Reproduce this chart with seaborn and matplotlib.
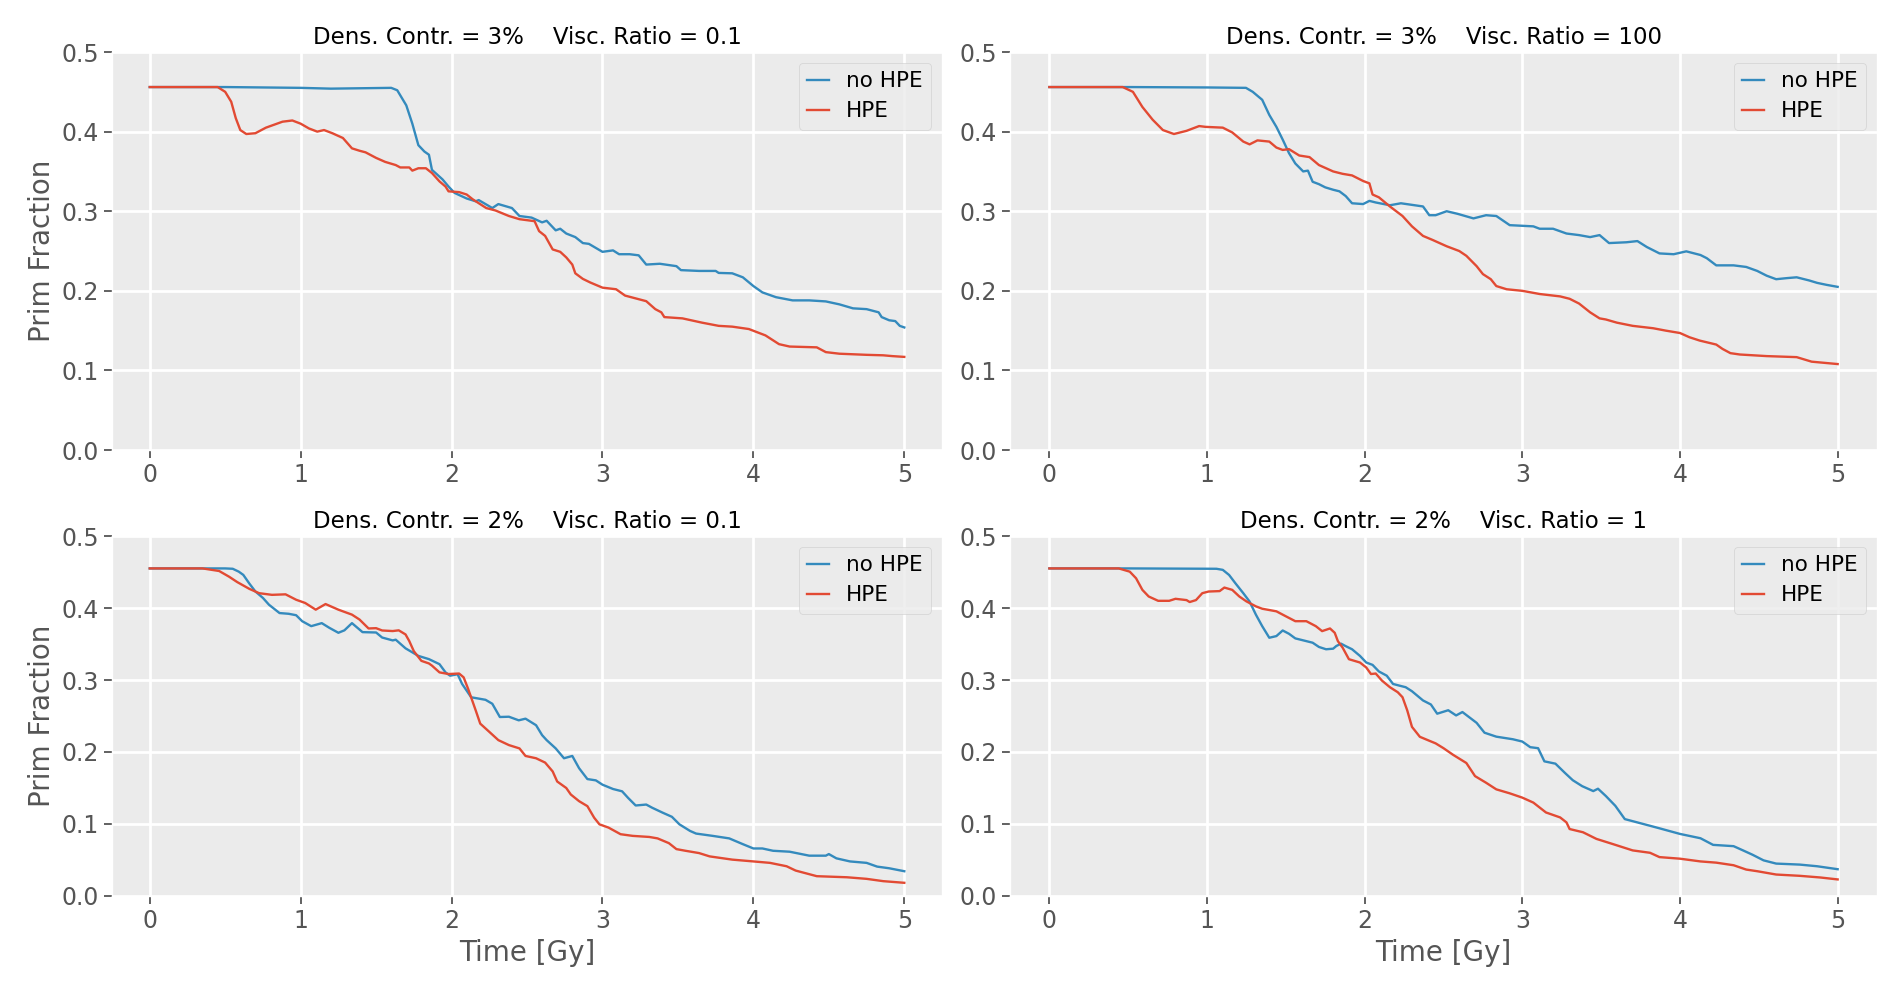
import matplotlib
matplotlib.use("Agg")
import matplotlib.pyplot as plt
import seaborn as sns

# readings (time [Gy], prim fraction)
tl_nohpe = [(0, .456), (0.5, .456), (1.0, .455), (1.2, .454), (1.6, .455), (1.64, .452), (1.70, .433),
            (1.74, .41), (1.78, .383), (1.82, .375), (1.85, .371), (1.87, .352), (1.94, .34), (1.98, .331),
            (2.02, .323), (2.10, .316), (2.16, .3125), (2.18, .314), (2.27, .304), (2.31, .309), (2.40, .304),
            (2.45, .294), (2.53, .292), (2.60, .286), (2.63, .288), (2.69, .276), (2.72, .278), (2.76, .272),
            (2.82, .2675), (2.87, .260), (2.91, .259), (3.0, .249), (3.07, .2508), (3.11, .246), (3.18, .246),
            (3.24, .2446), (3.29, .233), (3.38, .234), (3.49, .231), (3.52, .226), (3.64, .225), (3.75, .225),
            (3.77, .2225), (3.86, .222), (3.93, .217), (4.0, .206), (4.06, .198), (4.15, .192), (4.26, .188),
            (4.37, .188), (4.48, .1867), (4.57, .183), (4.66, .178), (4.75, .177), (4.83, .173), (4.85, .167),
            (4.90, .163), (4.94, .162), (4.97, .156), (5.0, .154)]
tl_hpe = [(0, .456), (0.45, .456), (0.50, .45), (0.54, .4375), (0.57, .417), (0.60, .402), (0.64, .397),
          (0.70, .398), (0.77, .405), (0.88, .4125), (0.945, .414), (1.0, .41), (1.055, .404), (1.11, .40),
          (1.155, .402), (1.21, .398), (1.28, .392), (1.34, .379), (1.39, .376), (1.43, .374), (1.50, .367),
          (1.56, .362), (1.63, .358), (1.66, .355), (1.72, .355), (1.74, .351), (1.78, .354), (1.83, .354),
          (1.87, .348), (1.92, .3375), (1.96, .331), (1.98, .325), (2.05, .324), (2.10, .321), (2.14, .315),
          (2.23, .304), (2.29, .301), (2.38, .294), (2.45, .29), (2.55, .2875), (2.58, .275), (2.62, .269),
          (2.67, .252), (2.72, .249), (2.76, .242), (2.80, .233), (2.82, .222), (2.87, .215), (2.92, .2104),
          (3.0, .204), (3.09, .202), (3.15, .194), (3.29, .187), (3.35, .177), (3.39, .173), (3.41, .167),
          (3.53, .1654), (3.66, .160), (3.77, .156), (3.86, .155), (3.97, .152), (4.08, .144), (4.17, .133),
          (4.24, .130), (4.42, .129), (4.48, .123), (4.57, .121), (4.75, .1196), (4.86, .119), (4.92, .118),
          (5.0, .117)]

tr_nohpe = [(0, .456), (0.5, .456), (1.0, .4555), (1.247, .455), (1.29, .45), (1.35, .44), (1.395, .421),
            (1.44, .406), (1.48, .39), (1.52, .373), (1.56, .36), (1.61, .35), (1.64, .351), (1.67, .337),
            (1.71, .334), (1.75, .33), (1.80, .327), (1.84, .325), (1.88, .319), (1.92, .31), (1.99, .309),
            (2.03, .313), (2.07, .311), (2.16, .3075), (2.23, .31), (2.30, .308), (2.37, .306), (2.41, .295),
            (2.45, .295), (2.52, .30), (2.59, .2967), (2.69, .291), (2.77, .295), (2.835, .294), (2.92, .2825),
            (3.0, .2817), (3.07, .281), (3.11, .278), (3.195, .278), (3.28, .272), (3.36, .27), (3.43, .2675),
            (3.49, .27), (3.55, .26), (3.66, .261), (3.73, .2625), (3.79, .255), (3.87, .247), (3.96, .246),
            (4.04, .2496), (4.13, .245), (4.17, .241), (4.23, .232), (4.34, .232), (4.42, .23), (4.49, .225),
            (4.55, .219), (4.61, .2146), (4.68, .216), (4.74, .217), (4.82, .213), (4.87, .21), (4.93, .2075),
            (5.0, .205)]
tr_hpe = [(0, .456), (0.465, .456), (0.53, .45), (0.59, .431), (0.655, .415), (0.72, .402), (0.79, .397),
          (0.87, .401), (0.95, .407), (0.99, .406), (1.10, .405), (1.16, .399), (1.23, .3875), (1.27, .384),
          (1.32, .389), (1.395, .3875), (1.44, .38), (1.48, .377), (1.52, .378), (1.585, .37), (1.65, .368),
          (1.71, .358), (1.80, .35), (1.86, .347), (1.92, .345), (1.99, .338), (2.03, .335), (2.05, .321),
          (2.09, .3175), (2.16, .306), (2.24, .294), (2.30, .281), (2.37, .269), (2.43, .264), (2.52, .256),
          (2.60, .25), (2.645, .244), (2.71, .231), (2.75, .221), (2.80, .2146), (2.835, .206), (2.90, .202),
          (3.0, .20), (3.11, .196), (3.24, .193), (3.30, .19), (3.36, .184), (3.43, .173), (3.49, .1654),
          (3.53, .164), (3.60, .16), (3.70, .156), (3.83, .153), (3.91, .15), (4.0, .147), (4.06, .1417),
          (4.125, .1375), (4.23, .1325), (4.27, .127), (4.32, .1217), (4.38, .12), (4.55, .118), (4.74, .1167),
          (4.835, .111), (5.0, .108)]

bl_nohpe = [(0, .455), (0.50, .455), (0.55, .4545), (0.59, .4505), (0.62, .446), (0.66, .434), (0.70, .423),
            (0.75, .414), (0.79, .4046), (0.86, .393), (0.92, .392), (0.97, .39), (1.01, .3817), (1.07, .3748),
            (1.14, .379), (1.19, .3725), (1.25, .3656), (1.29, .369), (1.34, .379), (1.41, .3665), (1.50, .366),
            (1.54, .359), (1.61, .355), (1.63, .356), (1.695, .344), (1.78, .3335), (1.85, .329), (1.92, .322),
            (1.96, .3106), (1.99, .306), (2.04, .308), (2.07, .2945), (2.13, .276), (2.225, .2725), (2.27, .267),
            (2.32, .2486), (2.38, .249), (2.445, .244), (2.49, .2463), (2.56, .2372), (2.60, .2234), (2.63, .2165),
            (2.69, .205), (2.745, .1913), (2.80, .1945), (2.845, .1775), (2.90, .1624), (2.956, .1606), (3.0, .1546),
            (3.07, .1486), (3.13, .1454), (3.17, .1362), (3.22, .1257), (3.29, .127), (3.33, .1225), (3.40, .1156),
            (3.46, .110), (3.51, .0995), (3.58, .0904), (3.62, .0867), (3.73, .0835), (3.84, .08), (3.93, .072),
            (4.0, .066), (4.06, .066), (4.13, .0628), (4.24, .0615), (4.37, .056), (4.48, .056), (4.50, .0582),
            (4.55, .0523), (4.64, .048), (4.75, .046), (4.82, .0408), (4.90, .0385), (5.0, .0344)]
bl_hpe = [(0, .455), (0.35, .455), (0.46, .4514), (0.525, .4436), (0.58, .436), (0.66, .4266), (0.725, .4206),
          (0.81, .4183), (0.90, .419), (0.97, .4115), (1.03, .407), (1.10, .3977), (1.165, .4055), (1.25, .3977),
          (1.34, .3908), (1.39, .384), (1.45, .3716), (1.50, .372), (1.54, .3688), (1.61, .368), (1.65, .369),
          (1.695, .3633), (1.72, .354), (1.75, .340), (1.80, .3266), (1.85, .323), (1.87, .32), (1.92, .3106),
          (1.98, .3083), (2.05, .309), (2.08, .3037), (2.11, .2876), (2.16, .2578), (2.19, .2394), (2.25, .228),
          (2.31, .2165), (2.38, .2096), (2.45, .205), (2.49, .1945), (2.56, .1913), (2.62, .1853), (2.67, .173),
          (2.70, .159), (2.76, .15), (2.79, .141), (2.845, .1317), (2.90, .1248), (2.945, .1087), (2.98, .0995),
          (3.04, .095), (3.12, .0858), (3.20, .0835), (3.31, .082), (3.365, .08), (3.44, .0734), (3.49, .0651),
          (3.55, .0628), (3.64, .0596), (3.71, .055), (3.86, .0505), (4.0, .048), (4.11, .046), (4.22, .0413),
          (4.28, .0353), (4.42, .0275), (4.62, .026), (4.75, .0238), (4.86, .0206), (5.0, .0183)]

br_nohpe = [(0, .455), (0.5, .455), (1.06, .4545), (1.10, .453), (1.14, .4459), (1.18, .4344), (1.23, .4206),
            (1.27, .409), (1.31, .3908), (1.35, .3748), (1.395, .3587), (1.44, .361), (1.48, .3688), (1.52, .3642),
            (1.56, .3578), (1.63, .354), (1.67, .3518), (1.71, .3459), (1.755, .3427), (1.80, .3435), (1.82, .3472),
            (1.85, .3505), (1.88, .347), (1.92, .3427), (1.97, .3335), (2.01, .3243), (2.05, .321), (2.09, .3119),
            (2.14, .306), (2.18, .2945), (2.22, .2922), (2.26, .29), (2.30, .2844), (2.37, .2716), (2.42, .266),
            (2.46, .2532), (2.53, .258), (2.58, .2508), (2.62, .2555), (2.71, .2405), (2.76, .2268), (2.835, .2213),
            (2.94, .2177), (3.0, .2145), (3.05, .2067), (3.10, .2053), (3.14, .187), (3.21, .1838), (3.27, .171),
            (3.32, .1608), (3.38, .1525), (3.45, .1457), (3.48, .149), (3.53, .1388), (3.59, .1252), (3.65, .1068),
            (3.745, .1013), (3.87, .094), (4.0, .0862), (4.13, .0802), (4.21, .071), (4.34, .0692), (4.40, .0633),
            (4.46, .0573), (4.53, .0495), (4.61, .045), (4.76, .0436), (4.87, .0413), (5.0, .0372)]
br_hpe = [(0, .455), (0.44, .455), (0.51, .4505), (0.55, .4413), (0.59, .4252), (0.63, .416), (0.69, .41),
          (0.76, .41), (0.80, .4128), (0.87, .411), (0.89, .4083), (0.93, .411), (0.97, .4206), (1.01, .4229),
          (1.08, .4235), (1.11, .4284), (1.16, .4252), (1.205, .416), (1.25, .4092), (1.31, .4023), (1.35, .399),
          (1.44, .3954), (1.50, .3885), (1.56, .3817), (1.63, .3817), (1.69, .3748), (1.73, .3679), (1.78, .3716),
          (1.81, .3656), (1.83, .354), (1.86, .345), (1.90, .3289), (1.97, .3243), (2.01, .3174), (2.04, .3083),
          (2.07, .309), (2.11, .2991), (2.16, .29), (2.21, .283), (2.24, .2761), (2.27, .2578), (2.30, .2349),
          (2.35, .2211), (2.41, .2156), (2.45, .212), (2.50, .2053), (2.56, .1962), (2.645, .1847), (2.70, .1665),
          (2.77, .1573), (2.835, .1481), (2.92, .1426), (3.0, .1366), (3.07, .1297), (3.15, .116), (3.24, .1091),
          (3.28, .1022), (3.30, .093), (3.385, .0885), (3.47, .0793), (3.57, .0724), (3.70, .0633), (3.81, .06),
          (3.87, .054), (4.0, .0518), (4.13, .048), (4.23, .0463), (4.34, .0427), (4.42, .0367), (4.49, .0344),
          (4.61, .0298), (4.76, .028), (4.89, .0257), (5.0, .023)]

titles = ["Dens. Contr. = 3%    Visc. Ratio = 0.1", "Dens. Contr. = 3%    Visc. Ratio = 100",
          "Dens. Contr. = 2%    Visc. Ratio = 0.1", "Dens. Contr. = 2%    Visc. Ratio = 1"]
series = [(tl_nohpe, tl_hpe), (tr_nohpe, tr_hpe), (bl_nohpe, bl_hpe), (br_nohpe, br_hpe)]
labels = ["no HPE", "HPE"]
colors = ["#348ABD", "#E24A33"]

plt.style.use("ggplot")
plt.rcParams["axes.facecolor"] = "#EBEBEB"
plt.rcParams["font.family"] = ["DejaVu Sans"]

fig = plt.figure(figsize=(18.92, 9.93), dpi=100)
boxes = [[0.0592, 0.5468, 0.4387, 0.4008], [0.5338, 0.5468, 0.4583, 0.4008],
         [0.0592, 0.0977, 0.4387, 0.3625], [0.5338, 0.0977, 0.4583, 0.3625]]

for i, box in enumerate(boxes):
    ax = fig.add_axes(box)
    for pts, lab, col in zip(series[i], labels, colors):
        t, v = zip(*pts)
        sns.lineplot(x=list(t), y=list(v), ax=ax, label=lab, color=col, lw=1.7, estimator=None, sort=False)
    ax.set_ylim(0, 0.5)
    ax.set_xticks([0, 1, 2, 3, 4, 5])
    ax.set_yticks([0.0, 0.1, 0.2, 0.3, 0.4, 0.5])
    ax.tick_params(labelsize=17, length=6, width=1.3, colors="#555555")
    ax.set_title(titles[i], fontsize=16.5, color="black")
    ax.set_xlabel("Time [Gy]" if i >= 2 else "", fontsize=20, color="#555555")
    ax.set_ylabel("Prim Fraction" if i % 2 == 0 else "", fontsize=20, color="#555555")
    ax.grid(True, color="white", lw=2)
    ax.legend(loc="upper right", fontsize=15.5, handlelength=1.0, labelspacing=0.45)

fig.savefig("out.png", dpi=100)
